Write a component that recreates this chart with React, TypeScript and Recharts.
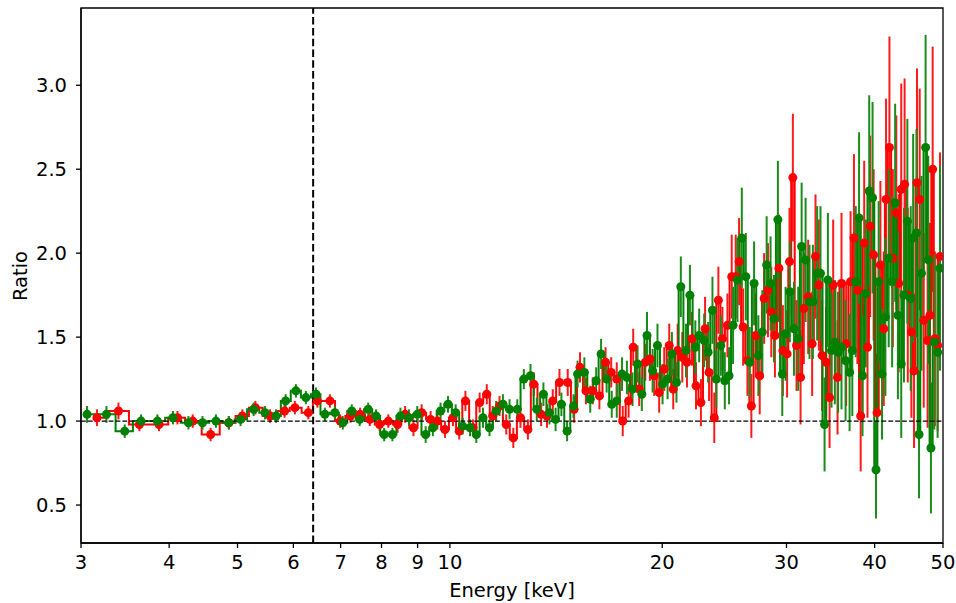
import React from "react";
import {
  LineChart,
  Line,
  XAxis,
  YAxis,
  ErrorBar,
  ReferenceLine,
  ReferenceArea,
} from "recharts";

// FPMA-like (red) series: bin centre energy [keV], data/model ratio, 1-sigma error
const redEnergy = [
  3.16, 3.39, 3.63, 3.87, 4.11, 4.32, 4.58, 4.86, 5.08, 5.3, 5.56, 5.83, 6.03, 6.3,
  6.49, 6.76, 6.99, 7.23, 7.46, 7.7, 7.95, 8.18, 8.43, 8.64, 8.88, 9.12, 9.39, 9.6,
  9.84, 10.1, 10.31, 10.52, 10.78, 11.02, 11.28, 11.5, 11.76, 12.02, 12.3, 12.59,
  12.9, 13.15, 13.47, 13.73, 13.99, 14.3, 14.69, 15.0, 15.29, 15.59, 15.94, 16.29,
  16.62, 16.93, 17.24, 17.58, 17.92, 18.19, 18.55, 18.92, 19.21, 19.48, 19.8, 20.13,
  20.46, 20.73, 21.03, 21.35, 21.68, 22.04, 22.33, 22.69, 23.0, 23.3, 23.7, 24.02,
  24.34, 24.74, 25.09, 25.42, 25.7, 26.04, 26.41, 26.75, 27.14, 27.49, 27.89, 28.24,
  28.55, 28.89, 29.27, 29.65, 30.06, 30.3, 30.63, 31.0, 31.41, 31.75, 32.2, 32.62,
  32.98, 33.34, 33.7, 34.14, 34.53, 34.94, 35.44, 35.9, 36.45, 36.98, 37.39, 37.81,
  38.22, 38.66, 39.08, 39.43, 39.87, 40.32, 40.76, 41.21, 41.52, 41.98, 42.45, 42.93,
  43.27, 43.63, 44.11, 44.57, 45.1, 45.49, 45.93, 46.34, 46.95, 47.55, 47.92, 48.34,
  48.7, 49.13, 49.51,
];
const redRatio = [
  1.02, 1.06, 0.98, 0.98, 1.02, 1.0, 0.92, 0.99, 1.03, 1.08, 1.03, 1.06, 1.08, 1.05,
  1.12, 1.12, 1.0, 1.03, 1.04, 1.01, 0.98, 1.0, 0.98, 1.04, 0.96, 1.05, 1.01, 1.0,
  0.95, 1.02, 0.94, 1.12, 0.96, 1.11, 1.16, 1.03, 1.09, 0.98, 0.9, 1.02, 0.95, 1.22,
  1.04, 1.03, 1.12, 1.23, 1.23, 1.07, 1.32, 1.18, 1.18, 1.15, 1.35, 1.29, 1.25, 1.0,
  1.12, 1.44, 1.19, 1.35, 1.37, 1.27, 1.17, 1.31, 1.45, 1.19, 1.42, 1.38, 1.35, 1.49,
  1.21, 1.11, 1.55, 1.29, 1.02, 1.72, 1.49, 1.57, 1.86, 1.86, 1.95, 1.56, 1.36, 1.09,
  1.51, 1.27, 1.73, 1.78, 1.65, 1.51, 1.91, 1.42, 1.4, 1.95, 2.45, 1.45, 1.26, 1.67,
  1.74, 1.46, 1.98, 1.81, 1.39, 1.35, 1.14, 1.81, 1.26, 1.82, 1.46, 1.83, 2.09, 1.78,
  1.03, 2.06, 1.44, 2.16, 1.99, 1.05, 1.93, 1.55, 2.32, 2.63, 1.97, 2.24, 1.82, 2.38,
  2.41, 1.75, 1.53, 1.3, 2.42, 2.32, 1.6, 1.48, 1.63, 2.5, 1.49, 1.45, 1.98,
];
const redErr = [
  0.05, 0.05, 0.04, 0.04, 0.04, 0.04, 0.04, 0.04, 0.04, 0.04, 0.04, 0.04, 0.04, 0.04,
  0.04, 0.04, 0.04, 0.04, 0.04, 0.04, 0.04, 0.04, 0.05, 0.05, 0.05, 0.05, 0.05, 0.05,
  0.05, 0.05, 0.05, 0.06, 0.05, 0.06, 0.06, 0.06, 0.06, 0.06, 0.06, 0.06, 0.06, 0.07,
  0.07, 0.07, 0.07, 0.08, 0.08, 0.08, 0.09, 0.08, 0.08, 0.08, 0.09, 0.09, 0.1, 0.09,
  0.1, 0.11, 0.1, 0.11, 0.13, 0.12, 0.12, 0.13, 0.13, 0.12, 0.16, 0.15, 0.15, 0.16,
  0.14, 0.14, 0.19, 0.17, 0.15, 0.2, 0.19, 0.19, 0.25, 0.25, 0.26, 0.23, 0.21, 0.19,
  0.25, 0.23, 0.27, 0.28, 0.27, 0.25, 0.32, 0.27, 0.26, 0.32, 0.38, 0.27, 0.28, 0.33,
  0.34, 0.31, 0.37, 0.39, 0.33, 0.33, 0.3, 0.39, 0.34, 0.42, 0.37, 0.42, 0.5, 0.44,
  0.33, 0.49, 0.42, 0.54, 0.51, 0.35, 0.5, 0.46, 0.6, 0.66, 0.53, 0.58, 0.53, 0.63,
  0.63, 0.52, 0.51, 0.46, 0.68, 0.66, 0.52, 0.52, 0.55, 0.73, 0.52, 0.51, 0.62,
];

// FPMB-like (green) series
const greenEnergy = [
  3.06, 3.26, 3.46, 3.65, 3.85, 4.05, 4.26, 4.46, 4.66, 4.86, 5.05, 5.27, 5.47, 5.67,
  5.85, 6.05, 6.25, 6.46, 6.65, 6.87, 7.05, 7.26, 7.45, 7.66, 7.86, 8.07, 8.29, 8.51,
  8.75, 8.99, 9.24, 9.46, 9.7, 9.94, 10.19, 10.43, 10.68, 10.9, 11.14, 11.38, 11.63,
  11.89, 12.15, 12.46, 12.73, 13.01, 13.28, 13.57, 13.84, 14.12, 14.39, 14.66, 14.97,
  15.17, 15.51, 15.81, 16.12, 16.38, 16.68, 16.96, 17.24, 17.54, 17.82, 18.15, 18.45,
  18.71, 19.03, 19.38, 19.69, 20.02, 20.35, 20.64, 20.95, 21.25, 21.61, 21.89, 22.28,
  22.56, 22.93, 23.23, 23.56, 23.86, 24.21, 24.53, 24.87, 25.2, 25.56, 25.93, 26.27,
  26.61, 26.99, 27.37, 27.73, 28.12, 28.48, 28.8, 29.17, 29.59, 29.91, 30.33, 30.74,
  31.17, 31.52, 31.93, 32.34, 32.7, 33.16, 33.52, 33.97, 34.34, 34.75, 35.13, 35.5,
  35.9, 36.38, 36.86, 37.19, 37.61, 38.02, 38.45, 38.86, 39.3, 39.73, 40.18, 40.53,
  40.98, 41.43, 41.88, 42.35, 42.77, 43.16, 43.63, 44.02, 44.51, 45.0, 45.36, 45.85,
  46.24, 46.61, 47.24, 47.65, 48.07, 48.6, 49.13, 49.51,
];
const greenRatio = [
  1.04, 1.04, 0.94, 1.0, 1.0, 1.02, 0.99, 0.99, 1.0, 0.99, 1.01, 1.07, 1.05, 1.03,
  1.12, 1.18, 1.14, 1.16, 1.04, 1.05, 0.99, 1.06, 1.01, 1.07, 1.03, 0.92, 0.92, 1.03,
  1.02, 1.04, 0.92, 0.96, 1.06, 1.1, 1.05, 0.97, 0.96, 0.92, 1.02, 0.96, 1.06, 1.1,
  1.07, 1.07, 1.25, 1.27, 1.07, 1.16, 1.05, 1.01, 1.1, 0.94, 1.09, 1.28, 1.29, 1.13,
  1.24, 1.4, 1.25, 1.1, 1.12, 1.28, 1.26, 1.19, 1.34, 1.16, 1.51, 1.3, 1.45, 1.22,
  1.25, 1.4, 1.23, 1.8, 1.42, 1.75, 1.44, 1.51, 1.48, 1.41, 1.66, 1.25, 1.45, 1.24,
  1.27, 1.57, 1.84, 2.09, 1.86, 1.35, 1.82, 1.39, 1.53, 1.93, 1.82, 1.61, 2.2, 1.28,
  1.52, 1.77, 1.55, 1.49, 2.04, 1.96, 1.71, 1.71, 1.88, 1.88, 0.98, 1.84, 1.42, 1.47,
  1.41, 1.44, 1.36, 1.29, 1.42, 1.83, 2.21, 1.27, 1.76, 2.37, 2.33, 0.71, 1.83, 1.28,
  1.62, 1.97, 1.83, 2.3, 1.63, 1.34, 1.75, 2.19, 1.73, 2.09, 2.12, 0.92, 1.88, 2.63,
  1.96, 0.84, 1.47, 1.41, 1.91,
];
const greenErr = [
  0.05, 0.05, 0.04, 0.04, 0.04, 0.04, 0.04, 0.04, 0.04, 0.04, 0.04, 0.04, 0.04, 0.04,
  0.04, 0.04, 0.04, 0.04, 0.04, 0.04, 0.04, 0.04, 0.04, 0.04, 0.04, 0.04, 0.04, 0.05,
  0.05, 0.05, 0.05, 0.05, 0.05, 0.05, 0.05, 0.05, 0.05, 0.05, 0.06, 0.05, 0.06, 0.06,
  0.06, 0.06, 0.06, 0.07, 0.07, 0.07, 0.07, 0.07, 0.07, 0.06, 0.07, 0.08, 0.09, 0.08,
  0.08, 0.09, 0.08, 0.08, 0.1, 0.1, 0.1, 0.1, 0.11, 0.1, 0.14, 0.13, 0.13, 0.12, 0.12,
  0.13, 0.12, 0.18, 0.16, 0.18, 0.16, 0.16, 0.16, 0.18, 0.2, 0.17, 0.18, 0.17, 0.17,
  0.23, 0.25, 0.3, 0.26, 0.21, 0.25, 0.24, 0.25, 0.29, 0.28, 0.26, 0.35, 0.25, 0.28,
  0.3, 0.28, 0.31, 0.38, 0.37, 0.34, 0.34, 0.4, 0.4, 0.28, 0.4, 0.34, 0.37, 0.36,
  0.37, 0.36, 0.35, 0.39, 0.45, 0.51, 0.36, 0.44, 0.57, 0.57, 0.29, 0.48, 0.39, 0.47,
  0.53, 0.51, 0.59, 0.5, 0.44, 0.52, 0.61, 0.55, 0.62, 0.62, 0.38, 0.58, 0.67, 0.62,
  0.39, 0.52, 0.51, 0.61,
];

const xTicks = [3, 4, 5, 6, 7, 8, 9, 10, 20, 30, 40, 50];
const yTicks = [0.5, 1.0, 1.5, 2.0, 2.5, 3.0];
const feLine = 6.4;

const redData = redEnergy.map((e, i) => ({ e, r: redRatio[i], err: redErr[i] }));
const greenData = greenEnergy.map((e, i) => ({ e, r: greenRatio[i], err: greenErr[i] }));

const font = "DejaVu Sans";
const tickStyle = { fill: "#000", fontSize: 19.5, fontFamily: font };

const XLabel = (props: any) => {
  const vb = props.viewBox || { x: 81, width: 862 };
  return (
    <text
      x={vb.x + vb.width / 2}
      y={597}
      textAnchor="middle"
      fill="#000"
      fontSize={19.5}
      fontFamily={font}
    >
      Energy [keV]
    </text>
  );
};

const YLabel = () => (
  <text
    x={26.5}
    y={276}
    transform="rotate(-90, 26.5, 276)"
    textAnchor="middle"
    fill="#000"
    fontSize={19.5}
    fontFamily={font}
  >
    Ratio
  </text>
);

export default function App() {
  return (
    <div
      style={{
        position: "absolute",
        left: 0,
        top: 0,
        width: 956,
        height: 603,
        background: "#fff",
      }}
    >
      <LineChart
        width={956}
        height={603}
        margin={{ top: 8, right: 13, bottom: 8, left: 11 }}
      >
        <XAxis
          type="number"
          dataKey="e"
          scale="log"
          domain={[3, 50]}
          allowDataOverflow
          ticks={xTicks}
          interval={0}
          height={52}
          tick={tickStyle}
          tickSize={5}
          tickMargin={7}
          stroke="#000"
          strokeWidth={1.3}
          label={<XLabel />}
        />
        <YAxis
          type="number"
          domain={[0.274, 3.46]}
          allowDataOverflow
          ticks={yTicks}
          interval={0}
          width={70}
          tick={tickStyle}
          tickSize={5}
          tickMargin={9}
          stroke="#000"
          strokeWidth={1.3}
          tickFormatter={(v: number) => v.toFixed(1)}
          label={<YLabel />}
        />
        <ReferenceArea
          x1={3}
          x2={50}
          y1={0.274}
          y2={3.46}
          fill="none"
          stroke="#000"
          strokeWidth={1.3}
          ifOverflow="visible"
        />
        <Line
          data={redData}
          dataKey="r"
          type="step"
          stroke="#ff0000"
          strokeWidth={2}
          dot={{ r: 4.5, fill: "#ff0000", stroke: "#ff0000", strokeWidth: 0 }}
          activeDot={false}
          isAnimationActive={false}
        >
          <ErrorBar
            dataKey="err"
            direction="y"
            width={0}
            stroke="#ff1a1a"
            strokeWidth={2}
            isAnimationActive={false}
          />
        </Line>
        <Line
          data={greenData}
          dataKey="r"
          type="step"
          stroke="#008000"
          strokeWidth={2}
          dot={{ r: 4.5, fill: "#008000", stroke: "#008000", strokeWidth: 0 }}
          activeDot={false}
          isAnimationActive={false}
        >
          <ErrorBar
            dataKey="err"
            direction="y"
            width={0}
            stroke="#1a8c1a"
            strokeWidth={2}
            isAnimationActive={false}
          />
        </Line>
        <ReferenceLine
          y={1}
          stroke="#000"
          strokeWidth={1.3}
          strokeDasharray="4.8 2.1"
        />
        <ReferenceLine
          x={feLine}
          stroke="#000"
          strokeWidth={2}
          strokeDasharray="7.5 3.3"
        />
      </LineChart>
    </div>
  );
}
